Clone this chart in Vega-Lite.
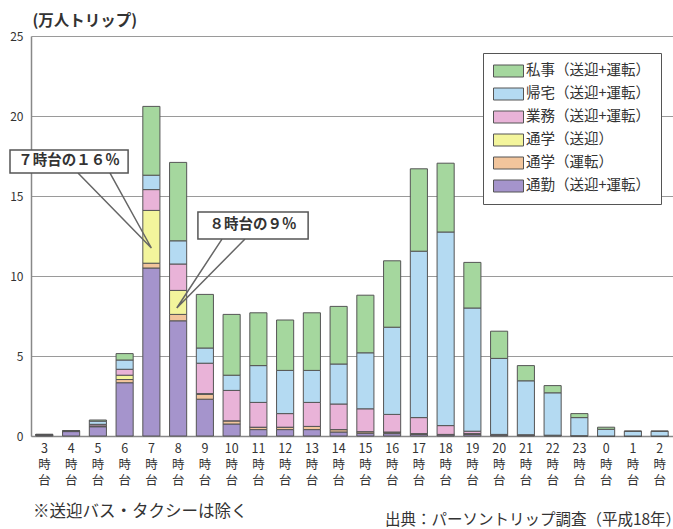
{
  "$schema": "https://vega.github.io/schema/vega-lite/v6.json",
  "autosize": {"type": "none"},
  "padding": {"left": 31, "top": 36, "right": 0, "bottom": 93},
  "width": 642,
  "height": 400,
  "background": "white",
  "config": {
    "font": "Noto Sans CJK JP",
    "view": {"stroke": null}
  },
  "datasets": {
    "cats": [
      {"k": "commute", "label": "通勤（送迎+運転）", "rank": 1},
      {"k": "school_drive", "label": "通学（運転）", "rank": 2},
      {"k": "school_pick", "label": "通学（送迎）", "rank": 3},
      {"k": "business", "label": "業務（送迎+運転）", "rank": 4},
      {"k": "home", "label": "帰宅（送迎+運転）", "rank": 5},
      {"k": "private", "label": "私事（送迎+運転）", "rank": 6}
    ],
    "hours": [
      {"h": "3", "commute": 0.08, "school_drive": 0, "school_pick": 0, "business": 0, "home": 0.02, "private": 0},
      {"h": "4", "commute": 0.28, "school_drive": 0, "school_pick": 0, "business": 0.02, "home": 0.03, "private": 0},
      {"h": "5", "commute": 0.58, "school_drive": 0.02, "school_pick": 0.03, "business": 0.1, "home": 0.2, "private": 0.07},
      {"h": "6", "commute": 3.33, "school_drive": 0.2, "school_pick": 0.27, "business": 0.37, "home": 0.58, "private": 0.4},
      {"h": "7", "commute": 10.5, "school_drive": 0.3, "school_pick": 3.3, "business": 1.3, "home": 0.9, "private": 4.3},
      {"h": "8", "commute": 7.2, "school_drive": 0.4, "school_pick": 1.5, "business": 1.65, "home": 1.45, "private": 4.9},
      {"h": "9", "commute": 2.3, "school_drive": 0.3, "school_pick": 0.05, "business": 1.9, "home": 0.95, "private": 3.35},
      {"h": "10", "commute": 0.75, "school_drive": 0.2, "school_pick": 0, "business": 1.9, "home": 0.95, "private": 3.8},
      {"h": "11", "commute": 0.4, "school_drive": 0.15, "school_pick": 0, "business": 1.55, "home": 2.3, "private": 3.3},
      {"h": "12", "commute": 0.4, "school_drive": 0.15, "school_pick": 0, "business": 0.85, "home": 2.7, "private": 3.15},
      {"h": "13", "commute": 0.4, "school_drive": 0.2, "school_pick": 0, "business": 1.5, "home": 2.0, "private": 3.6},
      {"h": "14", "commute": 0.25, "school_drive": 0.15, "school_pick": 0, "business": 1.6, "home": 2.5, "private": 3.6},
      {"h": "15", "commute": 0.17, "school_drive": 0.1, "school_pick": 0, "business": 1.43, "home": 3.5, "private": 3.6},
      {"h": "16", "commute": 0.15, "school_drive": 0.1, "school_pick": 0, "business": 1.1, "home": 5.45, "private": 4.15},
      {"h": "17", "commute": 0.1, "school_drive": 0.05, "school_pick": 0, "business": 1.0, "home": 10.4, "private": 5.15},
      {"h": "18", "commute": 0.07, "school_drive": 0.03, "school_pick": 0, "business": 0.55, "home": 12.1, "private": 4.3},
      {"h": "19", "commute": 0.1, "school_drive": 0.05, "school_pick": 0, "business": 0.15, "home": 7.7, "private": 2.85},
      {"h": "20", "commute": 0.05, "school_drive": 0, "school_pick": 0, "business": 0.05, "home": 4.75, "private": 1.7},
      {"h": "21", "commute": 0.05, "school_drive": 0, "school_pick": 0, "business": 0.03, "home": 3.37, "private": 0.95},
      {"h": "22", "commute": 0.03, "school_drive": 0, "school_pick": 0, "business": 0.02, "home": 2.65, "private": 0.45},
      {"h": "23", "commute": 0.02, "school_drive": 0, "school_pick": 0, "business": 0, "home": 1.13, "private": 0.25},
      {"h": "0", "commute": 0, "school_drive": 0, "school_pick": 0, "business": 0, "home": 0.42, "private": 0.13},
      {"h": "1", "commute": 0, "school_drive": 0, "school_pick": 0, "business": 0, "home": 0.3, "private": 0},
      {"h": "2", "commute": 0, "school_drive": 0, "school_pick": 0, "business": 0, "home": 0.3, "private": 0}
    ],
    "boxes": [
      {"id": 1, "x1": -0.785, "x2": 3.63, "y1": 16.44, "y2": 17.875, "t": "７時台の１６％", "tx": 1.42, "ty": 17.16},
      {"id": 2, "x1": 6.24, "x2": 10.36, "y1": 12.31, "y2": 14.0, "t": "８時台の９％", "tx": 8.3, "ty": 13.16}
    ],
    "tails": [
      {"id": 1, "o": 1, "x": 1.757, "y": 16.44},
      {"id": 1, "o": 2, "x": 4.5, "y": 11.75},
      {"id": 1, "o": 3, "x": 2.95, "y": 16.44},
      {"id": 2, "o": 1, "x": 7.14, "y": 12.31},
      {"id": 2, "o": 2, "x": 5.45, "y": 8.0},
      {"id": 2, "o": 3, "x": 8.0, "y": 12.31}
    ],
    "note1": [{"x": 0.075, "y": -4.75, "t": "※送迎バス・タクシーは除く"}],
    "note2": [{"x": 13.23, "y": -5.25, "t": "出典：パーソントリップ調査（平成18年）"}]
  },
  "resolve": {"scale": {"x": "independent", "y": "independent"}},
  "layer": [
    {
      "data": {"name": "hours"},
      "transform": [
        {"fold": ["commute", "school_drive", "school_pick", "business", "home", "private"], "as": ["key", "value"]},
        {"lookup": "key", "from": {"data": {"name": "cats"}, "key": "k", "fields": ["label", "rank"]}}
      ],
      "mark": {"type": "bar", "stroke": "#555", "strokeWidth": 1},
      "encoding": {
        "x": {
          "field": "h", "type": "nominal",
          "scale": {"domain": ["3","4","5","6","7","8","9","10","11","12","13","14","15","16","17","18","19","20","21","22","23","0","1","2"], "paddingInner": 0.36, "paddingOuter": 0.18},
          "axis": {
            "title": null, "labelAngle": 0, "labelExpr": "[datum.label, '時', '台']",
            "labelFontSize": 12.5, "labelLineHeight": 16, "labelColor": "#333", "labelPadding": 6,
            "labelOverlap": false, "labelBound": false, "ticks": false,
            "domainColor": "#888", "domainWidth": 1.5
          }
        },
        "y": {
          "field": "value", "type": "quantitative", "stack": "zero",
          "scale": {"domain": [0, 25], "nice": false},
          "axis": {
            "values": [0, 5, 10, 15, 20, 25], "grid": true, "gridColor": "#9a9a9a", "gridWidth": 1.2,
            "domainColor": "#888", "domainWidth": 1.5, "ticks": false,
            "labelFontSize": 12, "labelColor": "#333", "labelPadding": 8,
            "title": "(万人トリップ)", "titleAngle": 0, "titleAlign": "left", "titleBaseline": "middle",
            "titleX": 1, "titleY": -16, "titleFontSize": 15.5, "titleFontWeight": "bold", "titleColor": "#333"
          }
        },
        "color": {
          "field": "label", "type": "nominal",
          "scale": {
            "domain": ["私事（送迎+運転）", "帰宅（送迎+運転）", "業務（送迎+運転）", "通学（送迎）", "通学（運転）", "通勤（送迎+運転）"],
            "range": ["#a5d79e", "#b4daf2", "#e9b3d8", "#f3f59c", "#f2c59c", "#a594cc"]
          },
          "legend": {
            "title": null, "orient": "none", "legendX": 452, "legendY": 17,
            "strokeColor": "#555", "fillColor": "white", "padding": 10,
            "symbolType": "M-1,-0.8H3V0.8H-1Z", "symbolSize": 225, "symbolStrokeColor": "#555", "symbolStrokeWidth": 1,
            "symbolOpacity": 1,
            "labelFontSize": 14.5, "labelColor": "#333", "labelOffset": 17, "rowPadding": 7
          }
        },
        "order": {"field": "rank", "type": "quantitative"}
      }
    },
    {
      "data": {"name": "tails"},
      "mark": {"type": "line", "color": "#666", "strokeWidth": 1.5},
      "encoding": {
        "x": {"field": "x", "type": "quantitative", "scale": {"domain": [0, 24], "nice": false, "zero": false}, "axis": null},
        "y": {"field": "y", "type": "quantitative", "scale": {"domain": [0, 25], "nice": false}, "axis": null},
        "detail": {"field": "id"},
        "order": {"field": "o"}
      }
    },
    {
      "data": {"name": "boxes"},
      "mark": {"type": "rect", "fill": "white", "stroke": "#555", "strokeWidth": 1.5},
      "encoding": {
        "x": {"field": "x1", "type": "quantitative", "scale": {"domain": [0, 24], "nice": false, "zero": false}, "axis": null},
        "x2": {"field": "x2"},
        "y": {"field": "y1", "type": "quantitative", "scale": {"domain": [0, 25], "nice": false}, "axis": null},
        "y2": {"field": "y2"}
      }
    },
    {
      "data": {"name": "boxes"},
      "mark": {"type": "text", "fontSize": 14.5, "fontWeight": "bold", "color": "#333", "align": "center", "baseline": "middle"},
      "encoding": {
        "x": {"field": "tx", "type": "quantitative", "scale": {"domain": [0, 24], "nice": false, "zero": false}, "axis": null},
        "y": {"field": "ty", "type": "quantitative", "scale": {"domain": [0, 25], "nice": false}, "axis": null},
        "text": {"field": "t"}
      }
    },
    {
      "data": {"name": "note1"},
      "mark": {"type": "text", "fontSize": 16.5, "color": "#333", "align": "left", "baseline": "middle"},
      "encoding": {
        "x": {"field": "x", "type": "quantitative", "scale": {"domain": [0, 24], "nice": false, "zero": false}, "axis": null},
        "y": {"field": "y", "type": "quantitative", "scale": {"domain": [0, 25], "nice": false}, "axis": null},
        "text": {"field": "t"}
      }
    },
    {
      "data": {"name": "note2"},
      "mark": {"type": "text", "fontSize": 15.5, "color": "#333", "align": "left", "baseline": "middle"},
      "encoding": {
        "x": {"field": "x", "type": "quantitative", "scale": {"domain": [0, 24], "nice": false, "zero": false}, "axis": null},
        "y": {"field": "y", "type": "quantitative", "scale": {"domain": [0, 25], "nice": false}, "axis": null},
        "text": {"field": "t"}
      }
    }
  ]
}
